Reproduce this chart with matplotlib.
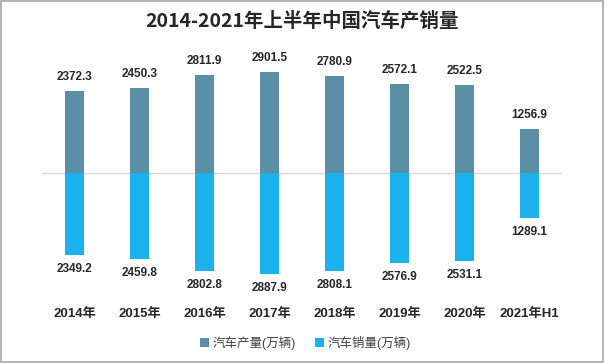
import matplotlib.pyplot as plt
import numpy as np

plt.rcParams['font.family'] = ['Liberation Sans', 'Noto Sans CJK SC']

years = ["2014年", "2015年", "2016年", "2017年", "2018年", "2019年", "2020年", "2021年H1"]
production = [2372.3, 2450.3, 2811.9, 2901.5, 2780.9, 2572.1, 2522.5, 1256.9]
sales = [2349.2, 2459.8, 2802.8, 2887.9, 2808.1, 2576.9, 2531.1, 1289.1]

c_prod = "#5b8fa6"
c_sales = "#1bb1ec"

fig = plt.figure(figsize=(6.05, 3.63), dpi=100)
fig.patch.set_facecolor("white")
# gray frame round the picture
fig.patches.append(plt.Rectangle((0.002, 0.003), 0.995, 0.994, transform=fig.transFigure,
                                 fill=False, edgecolor="#a6a6a6", linewidth=1.2))

ax = fig.add_axes([0.0694, 0.201, 0.8595, 0.647])
x = np.arange(len(years))
ax.bar(x, production, width=0.3, color=c_prod, label="汽车产量(万辆)", zorder=2)
ax.bar(x, [-v for v in sales], width=0.3, color=c_sales, label="汽车销量(万辆)", zorder=2)
ax.axhline(0, color="#d9d9d9", linewidth=1, zorder=1)

for xi, p, s in zip(x, production, sales):
    ax.text(xi, p + 230, f"{p:.1f}", ha="center", va="bottom", fontsize=8.5,
            fontweight="bold", color="#262626")
    ax.text(xi, -s - 230, f"{s:.1f}", ha="center", va="top", fontsize=8.5,
            fontweight="bold", color="#262626")

ax.set_xlim(-0.5, len(years) - 0.5)
ax.set_ylim(-3360, 3390)
ax.set_yticks([])
ax.set_xticks(x)
ax.set_xticklabels(years, fontsize=9.5, fontweight="bold", color="#262626")
ax.tick_params(axis="x", length=0, pad=13)
for sp in ax.spines.values():
    sp.set_visible(False)
ax.patch.set_alpha(0)

fig.text(0.5, 0.94, "2014-2021年上半年中国汽车产销量", ha="center", va="center",
         fontsize=14, fontweight="bold", color="#262626",
         family=['Noto Sans CJK SC'])

fig.legend(loc="center", bbox_to_anchor=(0.505, 0.056), ncol=2, frameon=False,
           fontsize=9, handlelength=0.7, handleheight=0.7, handletextpad=0.3,
           columnspacing=1.5, labelcolor="#404040")

plt.savefig("out.png", dpi=100)
